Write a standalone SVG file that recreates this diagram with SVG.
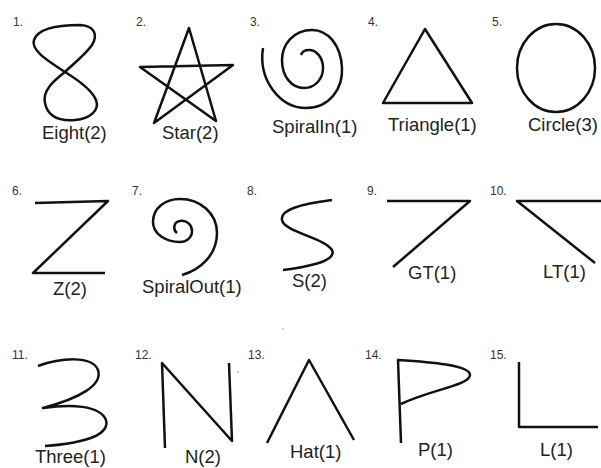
<svg xmlns="http://www.w3.org/2000/svg" width="601" height="468" viewBox="0 0 601 468">
<style>
.s{fill:none;stroke:#111;stroke-width:2.5;stroke-linejoin:round;stroke-linecap:butt}
.lb{font-family:"Liberation Sans",Arial,sans-serif;font-size:18.5px;fill:#222}
.nm{font-family:"Liberation Sans",Arial,sans-serif;font-size:12px;fill:#333}
</style>
<rect width="601" height="468" fill="#fff"/>
<g id="eight">
<text class="nm" x="13" y="26">1.</text>
<path class="s" d="M 65 72 C 55 80, 42 90, 45 103 C 48 118, 62 121, 75 120 C 90 119, 100 110, 96 100 C 92 90, 78 80, 65 72 C 55 65, 30 52, 34 40 C 38 28, 60 25, 80 25 C 95 26, 98 35, 92 45 C 85 55, 72 65, 65 72 Z"/>
<text class="lb" x="42" y="139">Eight(2)</text>
</g>
<g id="star">
<text class="nm" x="136" y="26">2.</text>
<polygon class="s" points="189,28 154,123 233,65 140,67 216,121"/>
<text class="lb" x="162" y="139">Star(2)</text>
</g>
<g id="spiralin">
<text class="nm" x="250" y="26">3.</text>
<path class="s" d="M 263 48 C 258 80, 280 108, 306 108 C 330 108, 343 88, 342 68 C 341 45, 328 30, 312 30 C 293 30, 282 45, 282 60 C 282 77, 292 88, 304 88 C 316 88, 323 78, 323 68 C 323 57, 316 50, 309 50 C 305 50, 302 52, 301 55"/>
<text class="lb" x="272" y="133">SpiralIn(1)</text>
</g>
<g id="triangle">
<text class="nm" x="368" y="26">4.</text>
<polygon class="s" points="425,29 383,103 472,103"/>
<text class="lb" x="388" y="131">Triangle(1)</text>
</g>
<g id="circle">
<text class="nm" x="492" y="26">5.</text>
<ellipse class="s" cx="556" cy="68" rx="39" ry="44"/>
<text class="lb" x="528" y="131">Circle(3)</text>
</g>
<g id="z">
<text class="nm" x="12" y="195">6.</text>
<polyline class="s" points="35,203 108,201 33,273 105,273"/>
<text class="lb" x="53" y="295">Z(2)</text>
</g>
<g id="spiralout">
<text class="nm" x="132" y="195">7.</text>
<path class="s" d="M 177 233 C 173 230, 173 222, 180 221 C 187 220, 192 225, 192 231 C 192 238, 186 242, 180 242 C 166 242, 153 234, 153 222 C 153 208, 165 199, 180 199 C 200 199, 217 213, 217 233 C 217 255, 200 270, 182 275"/>
<text class="lb" x="142" y="293">SpiralOut(1)</text>
</g>
<g id="s">
<text class="nm" x="247" y="195">8.</text>
<path class="s" d="M 332 200 C 300 204, 280 210, 282 220 C 284 232, 325 238, 332 250 C 338 262, 300 268, 283 270"/>
<text class="lb" x="292" y="287">S(2)</text>
</g>
<g id="gt">
<text class="nm" x="367" y="195">9.</text>
<polyline class="s" points="387,201 470,201 393,267"/>
<text class="lb" x="408" y="279">GT(1)</text>
</g>
<g id="lt">
<text class="nm" x="490" y="195">10.</text>
<polyline class="s" points="601,201 517,201 595,263"/>
<text class="lb" x="543" y="278">LT(1)</text>
</g>
<g id="three">
<text class="nm" x="12" y="359">11.</text>
<path class="s" d="M 38 366 C 60 358, 92 355, 98 370 C 103 385, 80 398, 43 408 C 70 404, 100 405, 106 420 C 110 435, 85 443, 45 446"/>
<text class="lb" x="35" y="463">Three(1)</text>
</g>
<g id="n">
<text class="nm" x="135" y="359">12.</text>
<polyline class="s" points="165,448 162,363 232,441 229,363"/>
<text class="lb" x="185" y="463">N(2)</text>
</g>
<g id="hat">
<text class="nm" x="248" y="359">13.</text>
<polyline class="s" points="267,443 309,360 354,440"/>
<text class="lb" x="290" y="458">Hat(1)</text>
</g>
<g id="p">
<text class="nm" x="365" y="359">14.</text>
<path class="s" d="M 401 443 L 398 360 C 430 362, 470 365, 470 375 C 470 385, 430 390, 401 404"/>
<text class="lb" x="418" y="456">P(1)</text>
</g>
<g id="l">
<text class="nm" x="490" y="359">15.</text>
<polyline class="s" points="519,362 519,427 598,427"/>
<text class="lb" x="540" y="456">L(1)</text>
</g>
<g id="specks" fill="#999">
<circle cx="238" cy="372" r="0.8"/>
<circle cx="283" cy="329" r="0.8"/>
</g>
</svg>
